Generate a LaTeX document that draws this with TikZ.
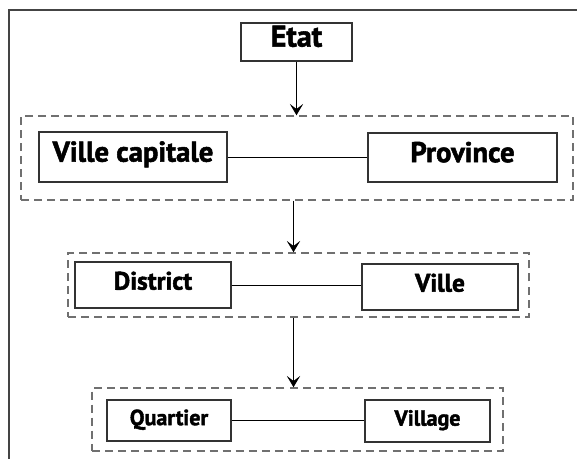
\documentclass[tikz,border=0pt]{standalone}
\usepackage{fontspec}
\setmainfont[BoldFeatures={FakeBold=1.8}]{PT Sans}
\usetikzlibrary{arrows.meta}
\definecolor{boxline}{HTML}{333333}
\definecolor{dashline}{HTML}{707070}
\definecolor{frameline}{HTML}{444444}
\tikzset{
  px/.style={x=0.75pt,y=-0.75pt},
  lvbox/.style={draw=boxline,line width=1pt,inner sep=0pt,font=\bfseries,text height=0.7em,text depth=0pt},
  grp/.style={draw=dashline,line width=1.1pt,dash pattern=on 6pt off 3.8pt,inner sep=0pt},
  link/.style={draw=black,line width=0.7pt},
  arr/.style={draw=black,line width=0.8pt,-{Stealth[length=8.5pt,width=10pt,inset=3.8pt]}},
}
\begin{document}
\begin{tikzpicture}[px]
\useasboundingbox (0,0) rectangle (577,459);
% outer frame
\draw[frameline,line width=1.5pt] (9,470) -- (9,10) -- (590,10);
% groups
\node[grp,minimum width=414pt,minimum height=63pt] (g1) at (297,158) {};
\node[grp,minimum width=345.75pt,minimum height=48pt] (g2) at (298.5,285) {};
\node[grp,minimum width=308.25pt,minimum height=47.25pt] (g3) at (297.5,419.5) {};
% boxes
\node[lvbox,minimum width=83.25pt,minimum height=28.5pt,font=\fontsize{22.5pt}{26pt}\selectfont\bfseries] (etat) at (296.5,42) {Etat};
\node[lvbox,minimum width=141pt,minimum height=37.5pt,font=\fontsize{21.5pt}{24pt}\selectfont\bfseries] (vc) at (133,157) {Ville capitale};
\node[lvbox,minimum width=141.75pt,minimum height=36.75pt,font=\fontsize{21.5pt}{24pt}\selectfont\bfseries] (prov) at (462.5,157.5) {Province};
\node[lvbox,minimum width=117pt,minimum height=34.5pt,font=\fontsize{19pt}{22pt}\selectfont\bfseries] (dist) at (153,285) {District};
\node[lvbox,minimum width=117pt,minimum height=34.5pt,font=\fontsize{19pt}{22pt}\selectfont\bfseries] (ville) at (440,287) {Ville};
\node[lvbox,minimum width=93pt,minimum height=30.75pt,font=\fontsize{16.5pt}{19pt}\selectfont\bfseries] (quart) at (169,420.5) {Quartier};
\node[lvbox,minimum width=93.75pt,minimum height=31.5pt,font=\fontsize{16.5pt}{19pt}\selectfont\bfseries] (vill) at (427.5,421) {Village};
% links
\draw[link] (vc.east) -- (vc.east -| prov.west);
\draw[link] (dist.east) -- (dist.east -| ville.west);
\draw[link] (quart.east) -- (quart.east -| vill.west);
% arrows
\draw[arr] (etat.south) -- (etat.south |- g1.north);
\coordinate (a2) at ([xshift=-2.625pt]g1.south);
\draw[arr] (a2) -- (a2 |- g2.north);
\coordinate (a3) at ([xshift=-3.75pt]g2.south);
\draw[arr] (a3) -- (a3 |- g3.north);
\end{tikzpicture}
\end{document}
